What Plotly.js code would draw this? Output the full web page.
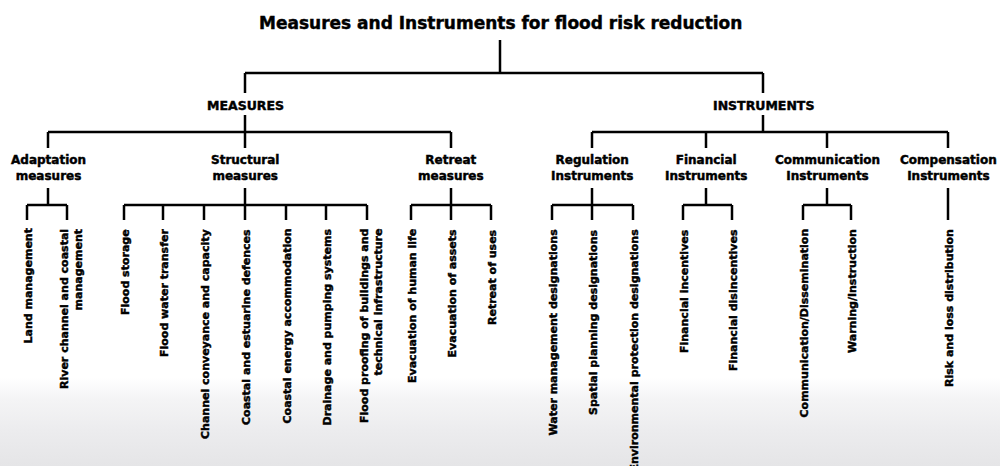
<!DOCTYPE html>
<html><head><meta charset="utf-8">
<script src="https://cdn.plot.ly/plotly-3.0.1.min.js"></script>
<style>
html,body{margin:0;padding:0;width:1000px;height:466px;overflow:hidden;
background:linear-gradient(to bottom,#ffffff 0px,#ffffff 378px,#f4f4f5 400px,#ececee 430px,#e5e5e7 466px);}
#chart{width:1000px;height:466px;}
#chart .annotation-text{stroke:#000;stroke-width:0.45px;}
</style>
</head><body><div id="chart"></div>
<script>
// ---- content ----
const rootLabel = "Measures and Instruments for flood risk reduction";
const groups = ["MEASURES", "INSTRUMENTS"];
const subgroups = ["Adaptation<br>measures", "Structural<br>measures", "Retreat<br>measures",
  "Regulation<br>Instruments", "Financial<br>Instruments", "Communication<br>Instruments", "Compensation<br>Instruments"];
const subgroupParent = [0, 0, 0, 1, 1, 1, 1];
const leaves = [
  "Land management", "River channel and coastal<br>management",
  "Flood storage", "Flood water transfer", "Channel conveyance and capacity", "Coastal and estuarine defences",
  "Coastal energy accommodation", "Drainage and pumping systems", "Flood proofing of buildings and<br>technical infrastructure",
  "Evacuation of human life", "Evacuation of assets", "Retreat of uses",
  "Water management designations", "Spatial planning designations", "Environmental protection designations",
  "Financial incentives", "Financial disincentives",
  "Communication/Dissemination", "Warning/Instruction",
  "Risk and loss distribution"
];
const leafParent = [0, 0, 1, 1, 1, 1, 1, 1, 1, 2, 2, 2, 3, 3, 3, 4, 4, 5, 5, 6];

// ---- layout (positions in pixel-like axis units) ----
const rootX = 500;
const groupX = [245, 763];
const subX = [48, 245, 451, 592, 706, 827, 948];
const leafX = [27, 67, 124, 163, 204, 245, 286, 326, 367, 411, 451, 491, 552, 592, 633, 683, 732, 803, 851, 948];
const Y = {title: 23, rootTop: 40, bar1: 73, groupTop: 93, groupLabel: 105, groupBottom: 115,
  bar2: 132, subTop: 148, subLabel: 168, subBottom: 188, bar3: 205, leafTop: 220, leafText: 227};

const xs = [], ys = [];
function seg(x0, y0, x1, y1) { xs.push(x0, x1, null); ys.push(y0, y1, null); }

seg(rootX, Y.rootTop, rootX, Y.bar1);
seg(Math.min(...groupX), Y.bar1, Math.max(...groupX), Y.bar1);
groupX.forEach(function (gx, gi) {
  seg(gx, Y.bar1, gx, Y.groupTop);
  seg(gx, Y.groupBottom, gx, Y.bar2);
  const kids = subX.filter(function (_, i) { return subgroupParent[i] === gi; });
  seg(Math.min(...kids), Y.bar2, Math.max(...kids), Y.bar2);
});
subX.forEach(function (sx, si) {
  seg(sx, Y.bar2, sx, Y.subTop);
  seg(sx, Y.subBottom, sx, Y.bar3);
  const kids = leafX.filter(function (_, i) { return leafParent[i] === si; });
  if (kids.length > 1) seg(Math.min(...kids), Y.bar3, Math.max(...kids), Y.bar3);
});
leafX.forEach(function (lx) { seg(lx, Y.bar3, lx, Y.leafTop); });

const FONT = "DejaVu Sans, Liberation Sans, Arial, sans-serif";
function bold(t) { return '<b>' + t.split('<br>').join('</b><br><b>') + '</b>'; }
const annotations = [];
annotations.push({x: rootX, y: Y.title, xref: 'x', yref: 'y', text: bold(rootLabel), showarrow: false,
  xanchor: 'center', yanchor: 'middle', font: {family: FONT, size: 17, color: '#000'}});
groups.forEach(function (g, i) {
  annotations.push({x: groupX[i], y: Y.groupLabel, xref: 'x', yref: 'y', text: bold(g), showarrow: false,
    xanchor: 'center', yanchor: 'middle', font: {family: FONT, size: 12.5, color: '#000'}});
});
subgroups.forEach(function (s, i) {
  annotations.push({x: subX[i], y: Y.subLabel, xref: 'x', yref: 'y', text: bold(s), showarrow: false,
    xanchor: 'center', yanchor: 'middle', align: 'center', font: {family: FONT, size: 12, color: '#000'}});
});
leaves.forEach(function (l, i) {
  const multi = l.indexOf('<br>') >= 0;
  annotations.push({x: leafX[i], y: Y.leafText, xref: 'x', yref: 'y', text: bold(l), showarrow: false,
    textangle: -90, xanchor: 'center', yanchor: 'top', align: 'right', xshift: multi ? 4 : 1,
    font: {family: FONT, size: 11, color: '#000'}});
});

const data = [{x: xs, y: ys, mode: 'lines', type: 'scatter', line: {color: '#000', width: 2.5}, hoverinfo: 'skip', showlegend: false}];
const layout = {
  width: 1000, height: 466, margin: {l: 0, r: 0, t: 0, b: 0},
  paper_bgcolor: 'rgba(0,0,0,0)', plot_bgcolor: 'rgba(0,0,0,0)',
  xaxis: {range: [0, 1000], visible: false, fixedrange: true},
  yaxis: {range: [466, 0], visible: false, fixedrange: true},
  annotations: annotations, showlegend: false
};
Plotly.newPlot('chart', data, layout, {staticPlot: true, displayModeBar: false});
</script>
</body></html>
